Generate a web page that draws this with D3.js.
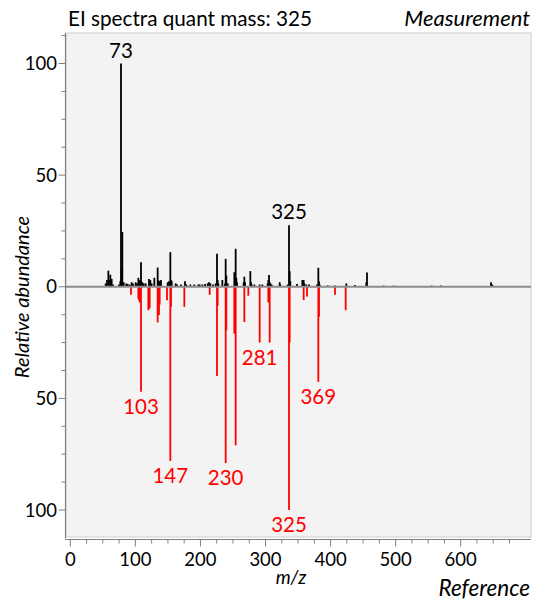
<!DOCTYPE html>
<html>
<head>
<meta charset="utf-8">
<script src="https://cdn.jsdelivr.net/npm/d3@7"></script>
<style>
  html, body { margin: 0; padding: 0; background: #ffffff; }
  svg { display: block; font-family: Lato, "Open Sans", sans-serif; }
</style>
</head>
<body>
<svg id="chart" width="535" height="603"></svg>
<script>
// ---- Data ----
const titleText = "EI spectra quant mass: 325";
const topLabel = "Measurement";
const bottomLabel = "Reference";
const xTitle = "m/z";
const yTitle = "Relative abundance";

// Measured spectrum (upward, black): m/z and relative abundance
const measMz = [50, 52, 54, 55, 57, 59, 61, 70, 72, 73, 74, 75, 77, 81, 83, 86, 89, 91, 95, 97, 99, 101, 102, 103, 104, 105, 107, 110, 115, 116, 117, 119, 123, 128, 129, 131, 133, 143, 145, 147, 148, 149, 155, 157, 163, 169, 171, 177, 183, 189, 191, 195, 199, 203, 205, 207, 211, 215, 217, 218, 219, 225, 229, 230, 231, 233, 243, 244, 245, 246, 247, 257, 258, 259, 267, 268, 269, 273, 281, 285, 293, 294, 295, 296, 297, 299, 311, 312, 323, 325, 326, 327, 337, 345, 347, 348, 351, 355, 367, 369, 370, 371, 383, 394, 411, 424, 441, 442, 467, 482, 539, 553, 628, 630];
const measAb = [1.5, 3, 7.2, 3, 5.4, 3.5, 1, 1, 2.5, 100, 8, 24.5, 2, 1.5, 1.2, 1, 2, 1.5, 2, 1.5, 4, 3, 2.5, 11, 2, 2, 1.5, 1.5, 3.5, 1.5, 3, 1.5, 4, 8.6, 3, 2.5, 3, 2, 2.5, 15.5, 3, 2.5, 1.5, 1, 1, 2.5, 1, 1, 1, 1, 1, 1, 1.2, 1.5, 2, 1.5, 1, 1.5, 14.8, 3, 1.5, 3, 1.5, 12.5, 5, 1.5, 6.5, 2.5, 17, 4, 2, 2, 4.5, 2, 7, 2, 1, 1, 1, 1, 1.5, 3, 5.3, 2, 1.5, 1, 2, 1, 1, 27.5, 7, 2.5, 1.2, 3, 3, 1.5, 1, 1, 1, 8.5, 2.5, 1, 0.6, 0.6, 1.5, 0.8, 2, 6.4, 0.5, 0.5, 0.5, 0.6, 2, 1];

// Reference spectrum (downward, red): m/z and relative abundance
const refMz = [88, 99, 100, 101, 103, 114, 116, 128, 130, 131, 142, 147, 148, 168, 206, 217, 218, 230, 231, 243, 245, 258, 264, 281, 294, 296, 325, 326, 347, 352, 369, 370, 394, 410];
const refAb = [3.6, 5.2, 6, 7, 47, 10.5, 9.7, 16, 12.6, 8, 6, 78, 9, 9, 3.6, 40, 8.5, 79, 19.5, 21, 71, 15.8, 4, 25, 7, 25, 100, 25, 6, 4.4, 42.6, 13.4, 3.6, 10.5];

// Labelled peaks
const measLabels = [73, 325];
const refLabels = [103, 147, 230, 281, 325, 369];

// Axis ticks
const xTickValues = [0, 100, 200, 300, 400, 500, 600];
const yTickValues = [-100, -50, 0, 50, 100];

// ---- Drawing ----
const svg = d3.select("#chart");
const plot = { left: 66, right: 531, top: 33, bottom: 537 };

// peak position scale (as placed in the picture)
const x = d3.scaleLinear().domain([73, 325]).range([121, 289]);
// axis scale (tick positions as drawn in the picture)
const xAx = d3.scaleLinear().domain([0, 600]).range([70.3, 460.7]);
const y = d3.scaleLinear().domain([-100, 100]).range([510, 63.5]);

// panel background
svg.append("rect")
  .attr("x", plot.left).attr("y", plot.top)
  .attr("width", plot.right - plot.left).attr("height", plot.bottom - plot.top)
  .attr("fill", "#f3f3f3").attr("stroke", "#d4d4d4").attr("stroke-width", 1.2);

const meas = measMz.map((m, i) => ({ mz: m, ab: measAb[i] }));
const ref = refMz.map((m, i) => ({ mz: m, ab: refAb[i] }));

svg.append("g").selectAll("line").data(ref).join("line")
  .attr("x1", d => x(d.mz)).attr("x2", d => x(d.mz))
  .attr("y1", y(0)).attr("y2", d => y(-d.ab))
  .attr("stroke", "#ff0000").attr("stroke-width", 1.8);

svg.append("g").selectAll("line").data(meas).join("line")
  .attr("x1", d => x(d.mz)).attr("x2", d => x(d.mz))
  .attr("y1", y(0)).attr("y2", d => y(d.ab))
  .attr("stroke", "#000000").attr("stroke-width", 1.8);

// zero line
svg.append("line")
  .attr("x1", plot.left).attr("x2", plot.right)
  .attr("y1", y(0)).attr("y2", y(0))
  .attr("stroke", "#8c8c8c").attr("stroke-width", 2);

// peak labels
svg.append("g").selectAll("text").data(measLabels).join("text")
  .attr("x", d => x(d)).attr("y", d => y(meas.find(p => p.mz === d).ab) - 6)
  .attr("text-anchor", "middle").attr("font-size", 20.5).attr("fill", "#000")
  .text(d => d);

svg.append("g").selectAll("text").data(refLabels).join("text")
  .attr("x", d => x(d)).attr("y", d => y(-ref.find(p => p.mz === d).ab) + 22)
  .attr("text-anchor", "middle").attr("font-size", 20.5).attr("fill", "#ff0000")
  .text(d => d);

// y axis
const yMinor = d3.range(-100, 100.1, 12.5).concat([112.5, -112.5]).filter(v => v % 50 !== 0);
const yAxisG = svg.append("g").attr("transform", `translate(${plot.left - 0.5},0)`);
yAxisG.append("line").attr("x1", 0).attr("x2", 0).attr("y1", plot.top).attr("y2", plot.bottom + 1)
  .attr("stroke", "#7f7f7f").attr("stroke-width", 1.2);
yAxisG.selectAll(".minor").data(yMinor.filter(v => y(v) > plot.top && y(v) < plot.bottom)).join("line")
  .attr("class", "minor").attr("x1", -4).attr("x2", 0).attr("y1", d => y(d)).attr("y2", d => y(d))
  .attr("stroke", "#7f7f7f");
yAxisG.selectAll(".major").data(yTickValues).join("line")
  .attr("class", "major").attr("x1", -7).attr("x2", 0).attr("y1", d => y(d)).attr("y2", d => y(d))
  .attr("stroke", "#7f7f7f");
yAxisG.selectAll("text").data(yTickValues).join("text")
  .attr("x", -8.5).attr("y", d => y(d)).attr("dy", "0.36em")
  .attr("text-anchor", "end").attr("font-size", 18.5).attr("fill", "#000")
  .text(d => Math.abs(d));

// x axis
const xAxisY = 539.5;
const xMinor = d3.range(0, 701, 25).filter(v => v % 100 !== 0);
const xAxisG = svg.append("g");
xAxisG.append("line").attr("x1", plot.left - 1).attr("x2", plot.right).attr("y1", xAxisY).attr("y2", xAxisY)
  .attr("stroke", "#7f7f7f").attr("stroke-width", 1.2);
xAxisG.selectAll(".minor").data(xMinor.filter(v => xAx(v) < plot.right)).join("line")
  .attr("class", "minor").attr("x1", d => xAx(d)).attr("x2", d => xAx(d)).attr("y1", xAxisY).attr("y2", xAxisY + 4)
  .attr("stroke", "#7f7f7f");
xAxisG.selectAll(".major").data(xTickValues).join("line")
  .attr("class", "major").attr("x1", d => xAx(d)).attr("x2", d => xAx(d)).attr("y1", xAxisY).attr("y2", xAxisY + 7)
  .attr("stroke", "#7f7f7f");
xAxisG.selectAll("text").data(xTickValues).join("text")
  .attr("x", d => xAx(d)).attr("y", 566)
  .attr("text-anchor", "middle").attr("font-size", 18.5).attr("fill", "#000")
  .text(d => d);

// titles
svg.append("text").attr("x", 68).attr("y", 26).attr("font-size", 20.7).attr("fill", "#000").text(titleText);
svg.append("text").attr("x", 530).attr("y", 26).attr("text-anchor", "end")
  .attr("font-size", 22).attr("font-style", "italic").attr("fill", "#000").text(topLabel);
svg.append("text").attr("x", 530).attr("y", 596).attr("text-anchor", "end")
  .attr("font-size", 22.5).attr("font-style", "italic").attr("fill", "#000").text(bottomLabel);
svg.append("text").attr("x", 291).attr("y", 584).attr("text-anchor", "middle")
  .attr("font-size", 19).attr("font-style", "italic").attr("fill", "#000").text(xTitle);
svg.append("text").attr("transform", `translate(29,297) rotate(-90)`).attr("text-anchor", "middle")
  .attr("font-size", 20).attr("font-style", "italic").attr("fill", "#000").text(yTitle);
</script>
</body>
</html>
